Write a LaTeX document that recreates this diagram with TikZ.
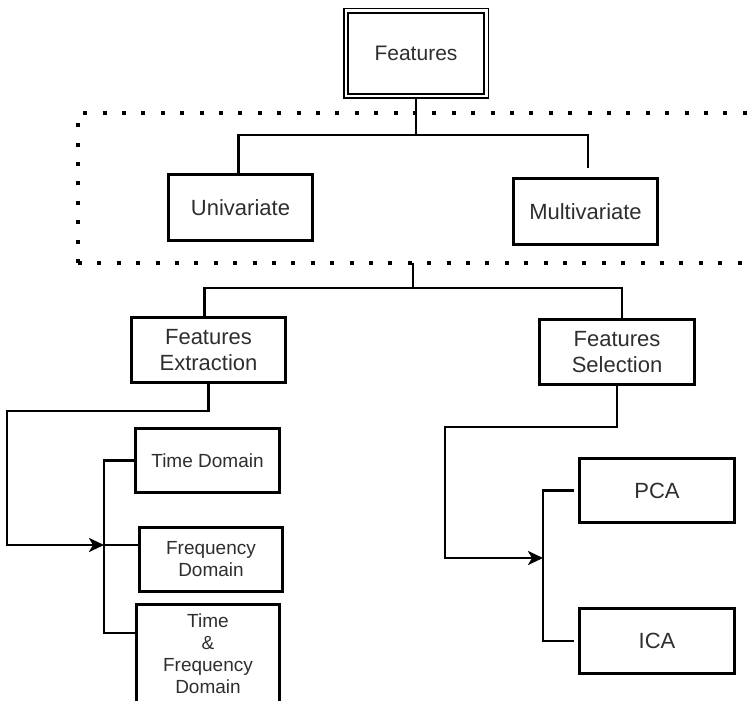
\documentclass[tikz,border=0pt]{standalone}
\usepackage{fontspec}
\setmainfont{Liberation Sans}
\usetikzlibrary{arrows.meta}
\definecolor{txtgray}{HTML}{2E2E2E}
\begin{document}
\begin{tikzpicture}[x=1pt,y=-1pt,>={Stealth[length=15pt,width=14pt,inset=4pt]},line join=miter,
		box/.style={draw,line width=3.8pt,text=txtgray,align=center,inner sep=0pt,font=\fontsize{22}{26}\selectfont},
		sbox/.style={box,font=\fontsize{19}{22}\selectfont},
		wire/.style={line width=2.9pt}]
		\useasboundingbox (0,0) rectangle (753,701);
		\clip (0,0) rectangle (753,701);
		%\draw[gray!30,step=50] (0,0) grid (753,701);
		% top level
		\node[draw,double,double distance=2.5pt,line width=1.6pt,minimum width=140.5pt,minimum height=85.5pt,
			text=txtgray,font=\fontsize{21}{25}\selectfont] (feat) at (416,53.5) {Features};
		\node[box,minimum width=144pt,minimum height=66pt] (uni) at (240.5,207.5) {Univariate};
		\node[box,minimum width=144pt,minimum height=66pt] (mul) at (585.5,211.5) {Multivariate};
		\draw[line width=4pt,dash pattern=on 4pt off 15.4pt] (78,263)--(78,113)--(760,113) (78,263)--(760,263);
		\coordinate (j1) at (413,135);
		\coordinate (grp) at (413,263);
		\coordinate (j2) at (413,288);
		\draw[wire] (feat.south)--(feat.south |- j1);
		\draw[wire] ([xshift=-2pt]uni.north) |- (feat.south |- j1) -| ([xshift=2.5pt,yshift=8.5pt]mul.north);
		% extraction / selection
		\node[box,minimum width=154pt,minimum height=65pt] (fe) at (208.5,350) {Features\\Extraction};
		\node[box,minimum width=155pt,minimum height=65pt] (fs) at (617,352) {Features\\Selection};
		\draw[wire] (grp)--(j2);
		\draw[wire] ([xshift=-4pt]fe.north) |- (j2) -| ([xshift=5pt]fs.north);
		% left branch
		\node[sbox,minimum width=144pt,minimum height=64pt] (td) at (207.5,460.5) {Time Domain};
		\node[sbox,minimum width=143pt,minimum height=64pt] (fd) at (211,559.5) {Frequency\\Domain};
		\node[sbox,minimum width=143pt,minimum height=99pt] (tfd) at (208,654) {Time\\\&\\Frequency\\Domain};
		\coordinate (busL) at (104,545);
		\coordinate (busLb) at (104,633);
		\draw[wire,->] (fe.south) |- (7,411) |- (busL);
		\draw[wire] (td.west) -| (busLb)--(busLb -| tfd.west);
		\draw[wire] (busL)--(busL -| fd.west);
		% right branch
		\node[box,minimum width=155pt,minimum height=64pt] (pca) at (657,490.5) {PCA};
		\node[box,minimum width=155pt,minimum height=65pt] (ica) at (657,641) {ICA};
		\coordinate (busR) at (543,558);
		\draw[wire,->] (fs.south) |- (445,427) |- (busR);
		\draw[wire] ([xshift=-4pt]pca.west) -| (busR |- ica.west)--([xshift=-4pt]ica.west);
	\end{tikzpicture}
\end{document}
